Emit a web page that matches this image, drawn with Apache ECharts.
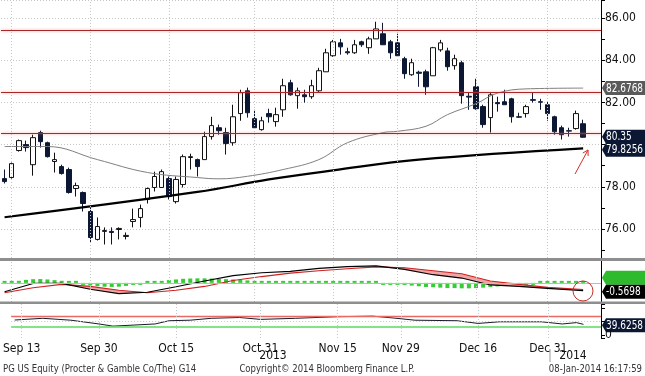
<!DOCTYPE html>
<html>
<head>
<meta charset="utf-8">
<script src="https://cdn.jsdelivr.net/npm/echarts@6/dist/echarts.min.js"></script>
<style>
  html, body { margin: 0; padding: 0; background: #fff; }
  #chart { width: 645px; height: 376px; }
</style>
</head>
<body>
<div id="chart"></div>
<script>
  // trading days, Sep 12 2013 .. Jan 8 2014
  const dates = ['09/12','09/13','09/16','09/17','09/18','09/19','09/20','09/23','09/24','09/25','09/26','09/27','09/30',
    '10/01','10/02','10/03','10/04','10/07','10/08','10/09','10/10','10/11','10/14','10/15','10/16','10/17','10/18','10/21','10/22','10/23','10/24','10/25','10/28','10/29','10/30','10/31',
    '11/01','11/04','11/05','11/06','11/07','11/08','11/11','11/12','11/13','11/14','11/15','11/18','11/19','11/20','11/21','11/22','11/25','11/26','11/27','11/29',
    '12/02','12/03','12/04','12/05','12/06','12/09','12/10','12/11','12/12','12/13','12/16','12/17','12/18','12/19','12/20','12/23','12/24','12/26','12/27','12/30','12/31',
    '01/02','01/03','01/06','01/07','01/08']
  const blanks = [' ', '  ']

  const open  = [78.39,78.44,79.72,80.00,79.05,80.57,80.09,79.20,78.96,78.82,77.92,77.73,76.83,75.51,75.89,75.89,75.98,75.65,76.36,76.55,77.40,77.97,77.97,78.39,77.30,78.11,79.39,79.29,79.29,80.38,80.80,80.57,80.09,81.47,82.55,81.23,80.71,81.47,81.09,81.65,82.93,82.32,82.36,82.27,82.55,83.45,84.21,84.82,84.40,84.35,84.87,84.59,85.01,85.25,84.87,84.82,84.07,83.31,83.43,83.45,83.26,84.49,84.44,83.74,83.88,82.29,82.74,81.80,81.28,81.99,82.03,82.17,81.32,81.47,82.13,82.03,81.89,81.32,80.80,80.66,80.76,80.99]
  const close = [78.25,79.10,80.19,79.86,80.33,80.14,79.43,79.29,78.63,77.73,78.06,77.21,75.60,76.12,75.93,75.84,76.03,75.70,76.45,76.97,77.92,78.49,78.72,77.54,78.35,79.43,79.43,78.96,80.38,80.90,80.66,80.05,81.32,82.46,81.51,80.80,81.13,81.32,81.42,82.79,82.36,82.55,82.27,82.79,83.50,84.35,84.87,84.63,84.35,84.73,84.73,85.01,85.48,84.73,84.35,84.21,83.36,83.88,83.38,82.74,84.59,84.82,83.69,84.07,82.32,82.25,81.70,80.95,82.36,81.94,81.89,81.32,81.30,81.80,82.10,82.01,81.47,80.61,80.47,80.64,81.47,80.35]
  const low   = [78.16,78.39,79.67,79.67,78.53,79.86,79.39,78.68,78.58,77.68,77.54,76.83,75.37,75.46,75.27,75.27,75.51,75.51,76.08,76.08,77.21,77.78,77.97,77.40,77.21,77.97,78.82,78.49,79.29,80.24,80.47,79.53,79.95,81.13,81.28,80.80,80.66,81.04,80.85,81.32,82.32,81.70,81.99,82.17,82.46,83.45,84.16,84.26,84.26,84.30,84.63,84.30,85.01,84.73,84.07,84.21,83.12,83.26,82.74,82.36,83.26,84.40,83.50,83.55,81.94,81.65,81.65,80.80,80.57,81.56,81.89,81.04,81.28,81.28,81.99,81.65,81.13,80.47,80.24,80.38,80.71,80.33]
  const high  = [78.82,79.15,80.24,80.19,80.47,80.66,80.14,79.62,79.05,78.91,78.20,77.78,77.02,76.55,76.08,76.08,76.08,75.84,76.97,77.16,77.97,78.72,78.82,78.49,78.49,79.53,79.57,79.34,80.61,81.32,80.95,80.80,81.89,82.60,82.70,81.65,81.32,81.70,81.75,83.12,83.07,82.70,82.60,83.07,83.64,84.54,84.96,85.01,84.59,84.96,84.92,85.11,85.82,85.77,84.96,85.25,84.16,84.07,83.50,83.55,84.63,84.96,84.59,84.26,83.97,82.46,83.12,81.89,82.46,82.27,82.60,82.22,81.51,81.89,82.46,82.17,82.03,81.37,80.90,80.80,81.61,81.18]

  // moving averages: [day index, value]
  const ma50  = [[0,79.91],[6,79.91],[13,79.29],[20,78.68],[27,78.44],[30,78.38],[34,78.50],[39,78.82],[44,79.29],[48,80.09],[53,80.57],[55.4,80.63],[58.9,80.87],[62.4,81.42],[66,81.94],[68.8,82.44],[73.4,82.64],[81,82.6768]]
  const ma200 = [[0,76.56],[27,77.76],[37,78.35],[46,78.78],[58,79.29],[81,79.8256]]
  const levels = [85.40, 82.50, 80.55]

  // MACD panel
  const macdIdx = [0,4,8,12,16,20,24,28,32,36,40,44,48,52,56,60,64,68,72,76,81]
  const macd    = [-0.65,-0.04,-0.04,-0.47,-0.79,-0.69,-0.29,0.14,0.53,0.74,0.84,1.06,1.19,1.24,0.99,0.60,0.35,-0.15,-0.26,-0.40,-0.5698]
  const signal  = [-0.72,-0.36,-0.11,-0.26,-0.54,-0.72,-0.54,-0.26,0.17,0.46,0.71,0.89,1.03,1.17,1.11,0.89,0.67,0.14,-0.11,-0.33,-0.49]
  const hist = [0.06,0.1,0.15,0.22,0.27,0.28,0.25,0.2,0.15,0.08,0.02,-0.1,-0.18,-0.24,-0.28,-0.3,-0.28,-0.22,-0.15,-0.08,
    0.02,0.08,0.14,0.2,0.25,0.3,0.32,0.33,0.33,0.32,0.3,0.27,0.25,0.22,0.18,0.15,0.12,0.1,0.08,0.08,0.08,0.07,0.07,0.08,0.1,0.1,0.1,0.1,0.08,0.06,0.05,0.03,0.02,
    -0.02,-0.06,-0.1,-0.15,-0.2,-0.25,-0.3,-0.32,-0.35,-0.38,-0.38,-0.4,-0.4,-0.38,-0.35,-0.3,-0.26,-0.22,-0.17,-0.12,-0.08,-0.04,0.0,0.03,0.05,0.06,0.07,0.07,0.06]

  // RSI panel
  const rsi = [[0,55.6],[4,62],[8,55],[12,41],[14,33],[17,37],[20,41],[22,53],[25,55],[28,62],[32,65],[35,58],[40,62],[46,68],[51,70],[54,63],[57,55],[63,53],[66,43],[69,49],[75,49],[77.5,41],[80,46],[81,39.6258]]

  const tickIdx    = [1, 12, 23, 35, 46, 55, 66, 76]
  const tickLabels = ['Sep 13', 'Sep 30', 'Oct 15', 'Oct 31', 'Nov 15', 'Nov 29', 'Dec 16', 'Dec 31']
  const priceLabels = ['86.00', '84.00', '82.00', '78.00', '76.00']

  const cats = dates.concat(blanks)
  const font = '"Liberation Sans Narrow", "DejaVu Sans Condensed", "Liberation Sans", sans-serif'
  const navy = '#0c1833'

  let myChart = echarts.init(document.getElementById('chart'), null, { renderer: 'canvas' })

  const vGrid = tickIdx.map(i => ({ xAxis: dates[i] }))
  const dotted = { color: '#c6c6c6', type: [1, 2], width: 1 }

  let xAxisBase = {
    type: 'category', data: cats, boundaryGap: true,
    axisLine: { show: false }, axisTick: { show: false },
    axisLabel: { show: false }, splitLine: { show: false }
  }

  let option = {
    animation: false,
    backgroundColor: '#fff',
    grid: [
      { left: 1, right: 44, top: 0, height: 258 },
      { left: 1, right: 44, top: 261, height: 41 },
      { left: 1, right: 44, top: 304, height: 34 }
    ],
    xAxis: [
      Object.assign({}, xAxisBase, { gridIndex: 0 }),
      Object.assign({}, xAxisBase, { gridIndex: 1 }),
      Object.assign({}, xAxisBase, {
        gridIndex: 2,
        axisLabel: {
          show: true, color: '#111', fontFamily: font, fontSize: 12, margin: 5,
          interval: (i) => tickIdx.includes(i),
          formatter: (v, i) => tickLabels[tickIdx.indexOf(i)] || ''
        }
      })
    ],
    yAxis: [
      {
        gridIndex: 0, type: 'value', position: 'right', min: 74.63, max: 86.85, splitNumber: 6,
        axisLine: { show: true, lineStyle: { color: '#000' } },
        axisTick: { show: true, length: 4, lineStyle: { color: '#000' } },
        minorTick: { show: true, splitNumber: 2, length: 4, lineStyle: { color: '#000' } },
        axisLabel: {
          color: '#111', fontFamily: font, fontSize: 12, margin: 4,
          formatter: v => priceLabels.includes(v.toFixed(2)) ? v.toFixed(2) : ''
        },
        splitLine: { show: true, lineStyle: dotted }
      },
      {
        gridIndex: 1, type: 'value', position: 'right', min: -1.4, max: 1.6,
        axisLine: { show: true, lineStyle: { color: '#000' } },
        axisTick: { show: false }, axisLabel: { show: false }, splitLine: { show: false }
      },
      {
        gridIndex: 2, type: 'value', position: 'right', min: -11, max: 115, splitNumber: 3,
        axisLine: { show: true, lineStyle: { color: '#000' } },
        axisTick: { show: true, length: 4, lineStyle: { color: '#000' } },
        axisLabel: { color: '#111', fontFamily: font, fontSize: 12, margin: 4, formatter: v => v === 0 ? '0' : '' },
        splitLine: { show: false }
      }
    ],
    series: [
      {
        type: 'candlestick', xAxisIndex: 0, yAxisIndex: 0, barWidth: 5,
        data: open.map((o, i) => [o, close[i], low[i], high[i]]),
        itemStyle: { color: '#fff', color0: navy, borderColor: '#111', borderColor0: navy, borderWidth: 1 },
        markLine: {
          silent: true, symbol: 'none', animation: false,
          data: vGrid.map(d => Object.assign({ lineStyle: dotted, label: { show: false } }, d))
            .concat(levels.map(v => ({
              yAxis: v, label: { show: false },
              lineStyle: { color: '#a8282a', width: 1.1, type: 'solid', shadowColor: 'rgba(235,110,110,0.8)', shadowBlur: 3 }
            })))
        }
      },
      {
        type: 'line', xAxisIndex: 0, yAxisIndex: 0, data: ma50, smooth: 0.4, symbol: 'none',
        lineStyle: { color: '#808080', width: 1 }
      },
      {
        type: 'line', xAxisIndex: 0, yAxisIndex: 0, data: ma200, smooth: 0.4, symbol: 'none',
        lineStyle: { color: '#000', width: 2.2 }
      },
      {
        type: 'bar', xAxisIndex: 1, yAxisIndex: 1, data: hist, barWidth: 4, barMinHeight: 2,
        itemStyle: { color: '#36cc36' },
        markLine: {
          silent: true, symbol: 'none',
          data: [{ yAxis: 0, lineStyle: { color: '#bbbbbb', type: 'solid', width: 1 }, label: { show: false } }]
            .concat(vGrid.map(d => Object.assign({ lineStyle: dotted, label: { show: false } }, d)))
        }
      },
      {
        type: 'line', xAxisIndex: 1, yAxisIndex: 1, stack: 'band', stackStrategy: 'all',
        data: macdIdx.map((i, k) => [i, macd[k]]), symbol: 'none', lineStyle: { opacity: 0 }
      },
      {
        type: 'line', xAxisIndex: 1, yAxisIndex: 1, stack: 'band', stackStrategy: 'all',
        data: macdIdx.map((i, k) => [i, Math.max(0, signal[k] - macd[k])]), symbol: 'none',
        lineStyle: { opacity: 0 }, areaStyle: { color: '#f09a9a', opacity: 0.9 }
      },
      {
        type: 'line', xAxisIndex: 1, yAxisIndex: 1, data: macdIdx.map((i, k) => [i, signal[k]]),
        symbol: 'none', lineStyle: { color: '#d02020', width: 1.1 }
      },
      {
        type: 'line', xAxisIndex: 1, yAxisIndex: 1, data: macdIdx.map((i, k) => [i, macd[k]]),
        symbol: 'none', lineStyle: { color: '#000', width: 1.1 }
      },
      {
        type: 'line', xAxisIndex: 2, yAxisIndex: 2, data: rsi, symbol: 'none',
        lineStyle: { color: '#1a1a2a', width: 1 },
        markLine: {
          silent: true, symbol: 'none',
          data: [
            { yAxis: 70, lineStyle: { color: '#e86a64', width: 1.3, type: 'solid' }, label: { show: false } },
            { yAxis: 30, lineStyle: { color: '#5fd85f', width: 1.5, type: 'solid' }, label: { show: false } },
            { yAxis: 50, lineStyle: dotted, label: { show: false } }
          ].concat(vGrid.map(d => Object.assign({ lineStyle: dotted, label: { show: false } }, d)))
        }
      }
    ],
    graphic: [
      { type: 'rect', shape: { x: 0, y: 258, width: 645, height: 3 }, style: { fill: '#8e8e8e' }, z: 10 },
      { type: 'rect', shape: { x: 0, y: 301.5, width: 645, height: 2.5 }, style: { fill: '#8e8e8e' }, z: 10 },
      { type: 'line', shape: { x1: 550, y1: 349, x2: 550, y2: 362 }, style: { stroke: '#999', lineWidth: 1 } },
      { type: 'text', x: 273, y: 356, style: { text: '2013', fill: '#111', font: '12px ' + font, textAlign: 'center', textVerticalAlign: 'middle' } },
      { type: 'text', x: 573, y: 356, style: { text: '2014', fill: '#111', font: '12px ' + font, textAlign: 'center', textVerticalAlign: 'middle' } },
      { type: 'text', x: 3, y: 369, scaleX: 0.86, style: { text: 'PG US Equity (Procter & Gamble Co/The) G14', fill: '#333', font: '11px ' + font, textVerticalAlign: 'middle' } },
      { type: 'text', x: 327, y: 369, scaleX: 0.86, style: { text: 'Copyright\u00a9 2014 Bloomberg Finance L.P.', fill: '#333', font: '11px ' + font, textAlign: 'center', textVerticalAlign: 'middle' } },
      { type: 'text', x: 642, y: 369, scaleX: 0.86, style: { text: '08-Jan-2014 16:17:59', fill: '#333', font: '11px ' + font, textAlign: 'right', textVerticalAlign: 'middle' } },
      // red annotation arrow and circle
      { type: 'line', shape: { x1: 575, y1: 174, x2: 588, y2: 150 }, style: { stroke: '#d0302a', lineWidth: 1 }, z: 20 },
      { type: 'polyline', shape: { points: [[582.8, 153], [588, 150], [588.1, 156]] }, style: { stroke: '#d0302a', lineWidth: 1, fill: null }, z: 20 },
      { type: 'circle', shape: { cx: 583, cy: 291, r: 10 }, style: { stroke: '#c0302a', lineWidth: 1, fill: null }, z: 20 }
    ]
  }

  myChart.setOption(option)

  // value tags on the right edge, placed through the axis scales
  function tagShape(axis, value, text, bg, dy) {
    const y = myChart.convertToPixel({ yAxisIndex: axis }, value) + (dy || 0)
    return {
      type: 'group', z: 30,
      children: [
        { type: 'polygon', shape: { points: [[602, y], [606, y - 7], [645, y - 7], [645, y + 7], [606, y + 7]] }, style: { fill: bg } },
        { type: 'text', x: 606, y: y + 0.5, scaleX: 0.83, style: { text: text, fill: text ? '#fff' : bg, font: '12px ' + font, textVerticalAlign: 'middle' } }
      ]
    }
  }
  let tags = [
    tagShape(0, 82.6768, '82.6768', '#5a5a5a'),
    tagShape(0, 79.8256, '79.8256', navy, 1.5),
    tagShape(0, close[close.length - 1], close[close.length - 1].toFixed(2), navy, -0.5),
    tagShape(1, 0.38, '', '#2dbb2d'),
    tagShape(1, -0.5698, '-0.5698', '#000', 1),
    tagShape(2, 39.6258, '39.6258', navy, 1)
  ]
  myChart.setOption({ graphic: option.graphic.concat(tags) })
</script>
</body>
</html>
